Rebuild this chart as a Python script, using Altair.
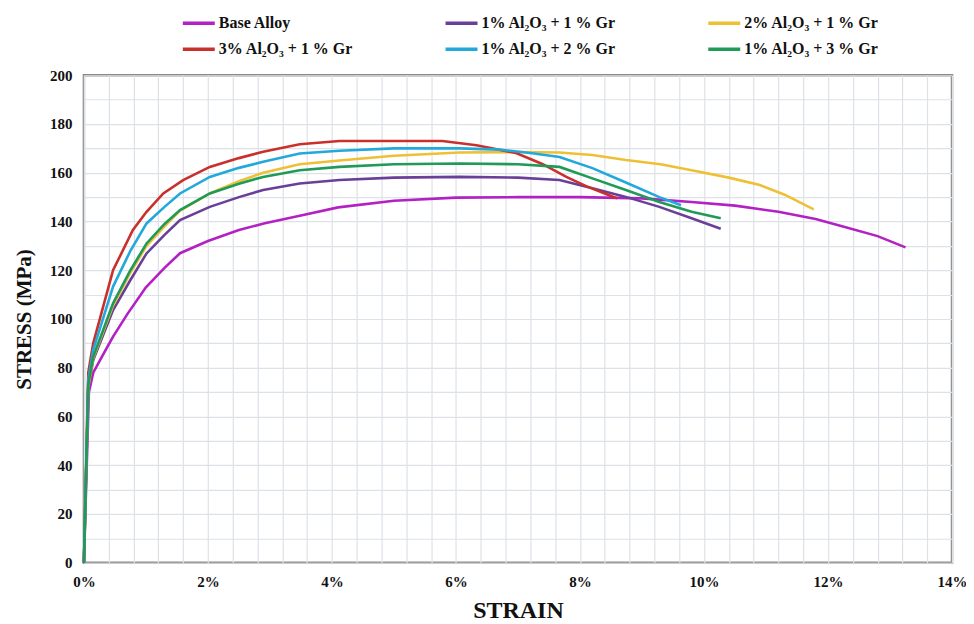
import altair as alt
import pandas as pd

series_names = [
    "Base Alloy",
    "1% Al₂O₃  + 1 % Gr",
    "2% Al₂O₃ + 1 % Gr",
    "3% Al₂O₃ + 1 % Gr",
    "1% Al₂O₃  + 2 % Gr",
    "1% Al₂O₃  + 3 % Gr",
]
series_colors = ["#B321C4", "#6A3F98", "#EDC035", "#C9302C", "#23A8DC", "#1F9A58"]

base_strain = [0, 0.08, 0.15, 0.3, 0.47, 0.7, 1.0, 1.3, 1.55, 2.0, 2.5, 2.9, 3.5, 4.1, 5.0, 6.0,
               7.0, 8.0, 9.0, 9.8, 10.5, 11.2, 11.8, 12.3, 12.8, 13.25]
base_stress = [0, 70, 78, 85, 92.8, 102, 113, 121, 127, 132, 136.5, 139.2, 142.5, 145.8, 148.5, 149.8,
               150, 150, 149.5, 148, 146.5, 144, 141, 137.5, 134, 129.4]

a1g1_strain = [0, 0.07, 0.15, 0.47, 0.75, 1.01, 1.3, 1.55, 2.03, 2.5, 2.89, 3.48, 4.12, 5.0, 6.06,
               7.0, 7.67, 8.2, 8.74, 9.28, 9.8, 10.27]
a1g1_stress = [0, 72, 83.2, 103.7, 116, 126.9, 134.5, 140.6, 146, 150, 152.9, 155.6, 157, 158, 158.3,
               158, 157, 153.6, 150.1, 146, 141.3, 137]

a2g1_strain = [0, 0.07, 0.15, 0.47, 0.75, 1.01, 1.3, 1.55, 2.03, 2.5, 2.89, 3.48, 4.12, 5.0, 6.06,
               7.0, 7.67, 8.2, 8.74, 9.3, 9.8, 10.4, 10.9, 11.3, 11.77]
a2g1_stress = [0, 72, 84, 105.5, 119, 130, 138, 144.5, 151.5, 156.5, 160, 163.5, 165, 167, 168.3,
               168.5, 168.3, 167.3, 165.2, 163.5, 161, 158, 155, 151, 145]

a3g1_strain = [0, 0.07, 0.15, 0.47, 0.79, 1.01, 1.28, 1.6, 2.03, 2.5, 2.89, 3.48, 4.12, 5.0, 5.78,
               6.33, 6.98, 7.4, 7.78, 8.1, 8.47, 8.6]
a3g1_stress = [0, 78, 90, 120, 136.5, 144, 151.5, 157, 162.4, 166, 168.6, 171.7, 173, 173, 173,
               171.3, 168, 163.5, 158.3, 154.5, 150.8, 149.5]

a1g2_strain = [0, 0.07, 0.15, 0.47, 0.75, 1.01, 1.3, 1.55, 2.03, 2.5, 2.89, 3.48, 4.12, 5.0, 6.06,
               6.7, 7.23, 7.67, 8.2, 8.74, 9.28, 9.63]
a1g2_stress = [0, 75, 87.3, 113.3, 128, 139.2, 146, 151.5, 158.3, 162, 164.5, 167.9, 169, 170, 170,
               169.5, 168, 166.5, 161.9, 156, 150, 146.7]

a1g3_strain = [0, 0.07, 0.15, 0.47, 0.75, 1.01, 1.3, 1.55, 2.03, 2.5, 2.89, 3.48, 4.12, 5.0, 6.06,
               7.0, 7.67, 8.2, 8.74, 9.28, 9.8, 10.27]
a1g3_stress = [0, 73, 84.5, 106.4, 120, 131, 139, 144.7, 151.5, 155.5, 158.3, 161, 162.4, 163.5, 163.8,
               163.5, 162.4, 157.7, 152.9, 148, 144, 141.3]

x_grid = [round(i * 0.4, 1) for i in range(36)]
y_grid = list(range(0, 201, 10))

all_strain = [base_strain, a1g1_strain, a2g1_strain, a3g1_strain, a1g2_strain, a1g3_strain]
all_stress = [base_stress, a1g1_stress, a2g1_stress, a3g1_stress, a1g2_stress, a1g3_stress]

rows = []
for name, xs, ys in zip(series_names, all_strain, all_stress):
    for i, (x, y) in enumerate(zip(xs, ys)):
        rows.append({"series": name, "strain": x, "stress": y, "idx": i})
df = pd.DataFrame(rows)

FONT = "Liberation Serif"

chart = alt.Chart(df).mark_line(strokeWidth=2.6).encode(
    x=alt.X("strain:Q", scale=alt.Scale(domain=[0, 14], nice=False),
            axis=alt.Axis(values=x_grid, title="STRAIN",
                          labelExpr="abs(datum.value/2 - round(datum.value/2)) < 0.001 ? format(datum.value, 'd') + '%' : ''",
                          ticks=False, domain=False, labelPadding=12, labelFlush=False,
                          titlePadding=9)),
    y=alt.Y("stress:Q", scale=alt.Scale(domain=[0, 200], nice=False),
            axis=alt.Axis(values=y_grid, title="STRESS (MPa)",
                          labelExpr="datum.value % 20 == 0 ? datum.value : ''",
                          ticks=False, domain=False, labelPadding=12, labelFlush=False,
                          titlePadding=15)),
    color=alt.Color("series:N", scale=alt.Scale(domain=series_names, range=series_colors),
                    legend=alt.Legend(title=None, orient="none", legendX=97, legendY=-70,
                                      direction="horizontal",
                                      columns=3, columnPadding=81, rowPadding=-5,
                                      gridAlign="all", symbolType="stroke",
                                      symbolSize=1024, symbolStrokeWidth=3.5,
                                      labelFont=FONT, labelFontSize=16, labelFontWeight="bold",
                                      labelColor="#111", labelOffset=2, labelLimit=300)),
    order="idx:Q",
).properties(
    width=869, height=488,
    background="white",
    autosize=alt.AutoSizeParams(type="none"),
    padding={"left": 76, "top": 67, "right": 14, "bottom": 60},
).configure_view(
    stroke="#8a8a8a", strokeWidth=2.5
).configure_axis(
    grid=True, gridColor="#dde2e8", gridWidth=1.2,
    labelFont=FONT, labelFontSize=15, labelFontWeight="bold", labelColor="#111",
    titleFont=FONT, titleFontWeight="bold", titleColor="#111",
).configure_axisX(
    titleFontSize=24
).configure_axisY(
    titleFontSize=21
)

chart.save("out.html", embed_options={"renderer": "svg", "actions": False})
